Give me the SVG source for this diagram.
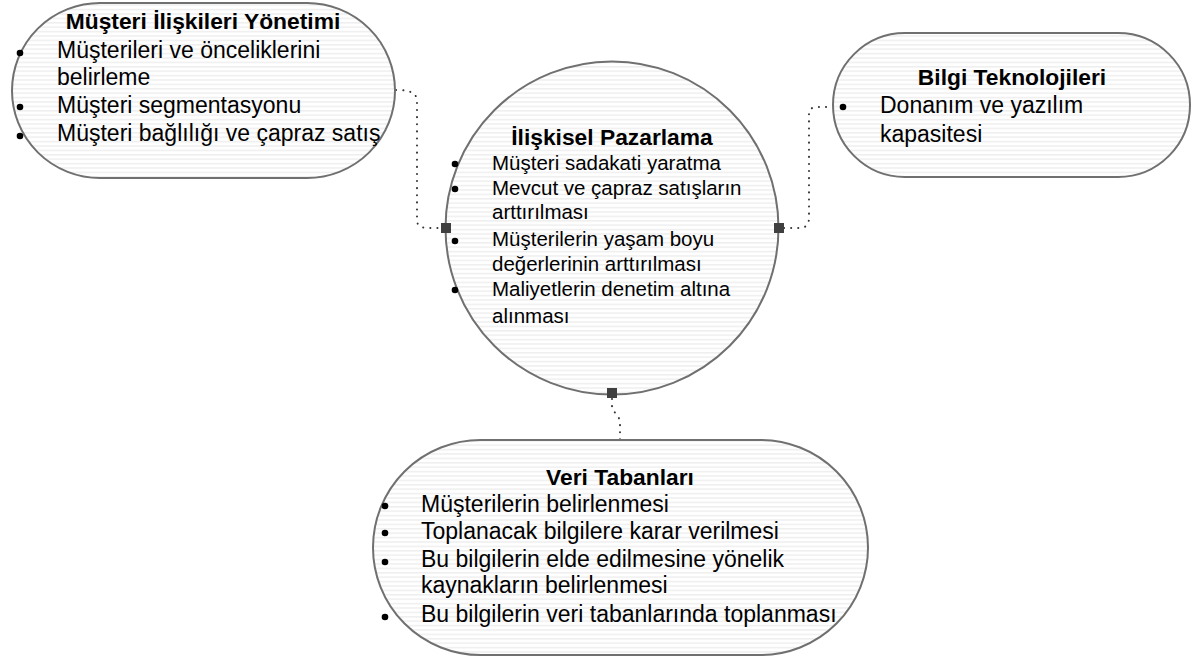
<svg xmlns="http://www.w3.org/2000/svg" width="1192" height="658" viewBox="0 0 1192 658">
  <defs>
    <pattern id="stripes" patternUnits="userSpaceOnUse" width="8" height="4.4">
      <rect width="8" height="4.4" fill="#ffffff"/>
      <rect y="0" width="8" height="1.5" fill="#efefef"/>
    </pattern>
  </defs>
  <style>
    .shape { fill: url(#stripes); stroke: #707070; stroke-width: 2; }
    .title { font-family: "Liberation Sans", Arial, sans-serif; font-weight: bold; font-size: 22.8px; fill: #000; text-anchor: middle; }
    .body { font-family: "Liberation Sans", Arial, sans-serif; font-size: 23px; fill: #000; }
    .bodyc { font-family: "Liberation Sans", Arial, sans-serif; font-size: 20.5px; fill: #000; }
    .bullet { fill: #000; }
    .conn { fill: none; stroke: #333; stroke-width: 2; stroke-linecap: round; stroke-dasharray: 0.1 7; }
    .handle { fill: #404040; }
  </style>

  <g id="connectors">
    <path class="conn" d="M396,90 C410,90 417,93 417,101 L417,220 C417,226 421,228 428,228 L441,228"/>
    <path class="conn" d="M784,228 L800,228 C806,228 809,224 809,218 L809,114 C809,109 812,107 818,107 L833,107"/>
    <path class="conn" d="M612,399 L612,408 C614,413 620,416 620,423 L620,440"/>
  </g>

  <g id="node-crm">
    <rect class="shape" x="12" y="3" width="383" height="175" rx="88" ry="87.5"/>
    <text class="title" x="203" y="29">Müşteri İlişkileri Yönetimi</text>
    <circle class="bullet" cx="20" cy="53" r="3.3"/>
    <text class="body" x="57" y="58">Müşterileri ve önceliklerini</text>
    <text class="body" x="57" y="85">belirleme</text>
    <circle class="bullet" cx="20" cy="107" r="3.3"/>
    <text class="body" x="57" y="113">Müşteri segmentasyonu</text>
    <circle class="bullet" cx="20" cy="136" r="3.3"/>
    <text class="body" x="57" y="141">Müşteri bağlılığı ve çapraz satış</text>
  </g>

  <g id="node-it">
    <rect class="shape" x="833" y="33" width="357" height="144" rx="72" ry="72"/>
    <text class="title" x="1012" y="85">Bilgi Teknolojileri</text>
    <circle class="bullet" cx="843" cy="107" r="3.3"/>
    <text class="body" x="880" y="113">Donanım ve yazılım</text>
    <text class="body" x="880" y="142">kapasitesi</text>
  </g>

  <g id="node-rm">
    <circle class="shape" cx="612" cy="228" r="166.5"/>
    <text class="title" x="612" y="145">İlişkisel Pazarlama</text>
    <circle class="bullet" cx="455" cy="164" r="3.3"/>
    <text class="bodyc" x="492" y="170">Müşteri sadakati yaratma</text>
    <circle class="bullet" cx="455" cy="189" r="3.3"/>
    <text class="bodyc" x="492" y="195">Mevcut ve çapraz satışların</text>
    <text class="bodyc" x="492" y="219">arttırılması</text>
    <circle class="bullet" cx="455" cy="241" r="3.3"/>
    <text class="bodyc" x="492" y="246">Müşterilerin yaşam boyu</text>
    <text class="bodyc" x="492" y="271">değerlerinin arttırılması</text>
    <circle class="bullet" cx="455" cy="290" r="3.3"/>
    <text class="bodyc" x="492" y="296">Maliyetlerin denetim altına</text>
    <text class="bodyc" x="492" y="323">alınması</text>
    <rect class="handle" x="441" y="223" width="10" height="10"/>
    <rect class="handle" x="774" y="223" width="10" height="10"/>
    <rect class="handle" x="607" y="388" width="10" height="10"/>
  </g>

  <g id="node-db">
    <rect class="shape" x="373" y="440" width="495" height="215" rx="107.5" ry="107.5"/>
    <text class="title" x="620" y="485">Veri Tabanları</text>
    <circle class="bullet" cx="385" cy="506" r="3.3"/>
    <text class="body" x="421" y="512">Müşterilerin belirlenmesi</text>
    <circle class="bullet" cx="385" cy="533" r="3.3"/>
    <text class="body" x="421" y="539">Toplanacak bilgilere karar verilmesi</text>
    <circle class="bullet" cx="385" cy="562" r="3.3"/>
    <text class="body" x="421" y="567">Bu bilgilerin elde edilmesine yönelik</text>
    <text class="body" x="421" y="593">kaynakların belirlenmesi</text>
    <circle class="bullet" cx="385" cy="617" r="3.3"/>
    <text class="body" x="421" y="622">Bu bilgilerin veri tabanlarında toplanması</text>
  </g>
</svg>
